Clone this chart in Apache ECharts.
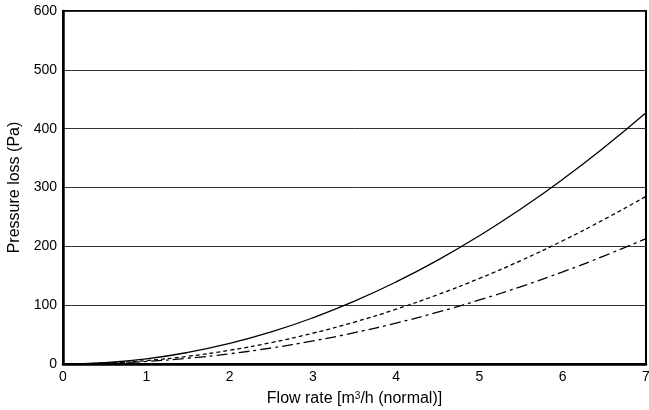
<!DOCTYPE html>
<html><head><meta charset="utf-8">
<script src="https://cdn.jsdelivr.net/npm/echarts@6/dist/echarts.min.js"></script>
<style>html,body{margin:0;padding:0;background:#fff}#c{width:649px;height:410px}</style>
</head><body><div id="c"></div>
<script>
const flowRate = [0, 0.5, 1, 1.5, 2, 2.5, 3, 3.5, 4, 4.5, 5, 5.5, 6, 6.5, 7];
const solidLoss = [0, 2.2, 8.7, 19.6, 34.9, 54.5, 78.5, 106.8, 139.5, 176.6, 218, 263.8, 313.9, 368.4, 427];
const dashedLoss = [0, 1.5, 5.8, 13.1, 23.3, 36.4, 52.4, 71.3, 93.1, 117.9, 145.5, 176, 209.5, 245.9, 285];
const dashDotLoss = [0, 1.1, 4.35, 9.8, 17.4, 27.2, 39.2, 53.3, 69.6, 88.1, 108.8, 131.6, 156.6, 183.8, 213];
const xTicks = [0, 1, 2, 3, 4, 5, 6, 7];
const yTicks = [0, 100, 200, 300, 400, 500, 600];

const pair = (ys) => flowRate.map((x, i) => [x, ys[i]]);
const font = 'Liberation Sans, Arial, sans-serif';
const chart = echarts.init(document.getElementById('c'), null, {renderer: 'canvas'});
function mk(ys, type, w) {
  return {type: 'line', data: pair(ys), smooth: true, symbol: 'none',
    lineStyle: {color: '#000', width: w, type: type}, z: 5};
}
chart.setOption({
  animation: false,
  grid: {left: 63, right: 3, top: 11, bottom: 46, outerBoundsMode: 'none', containLabel: false,
    show: true, borderColor: '#000', borderWidth: 2, backgroundColor: 'transparent'},
  xAxis: {type: 'value', min: xTicks[0], max: xTicks[xTicks.length-1], interval: 1,
    name: 'Flow rate [m{sup|3}/h (normal)]', nameLocation: 'middle', nameGap: 27,
    nameTextStyle: {fontFamily: font, fontSize: 16, color: '#000',
      rich: {sup: {fontFamily: font, fontSize: 10, color: '#000', verticalAlign: 'top', padding: [0, 0, 6, 0]}}},
    axisLine: {show: true, lineStyle: {color: '#000', width: 2.5}},
    axisTick: {show: false}, splitLine: {show: false},
    axisLabel: {fontFamily: font, fontSize: 14, color: '#000', margin: 6}},
  yAxis: {type: 'value', min: yTicks[0], max: yTicks[yTicks.length-1], interval: 100,
    name: 'Pressure loss (Pa)', nameLocation: 'middle', nameGap: 40, nameRotate: 90,
    nameTextStyle: {fontFamily: font, fontSize: 16, color: '#000'},
    axisLine: {show: true, lineStyle: {color: '#000', width: 2.5}},
    axisTick: {show: false},
    splitLine: {show: true, lineStyle: {color: '#333', width: 1}},
    axisLabel: {fontFamily: font, fontSize: 14, color: '#000', margin: 6}},
  series: [
    mk(solidLoss, 'solid', 1.3),
    mk(dashedLoss, [4, 3], 1.3),
    mk(dashDotLoss, [11, 4, 3, 4], 1.3)
  ]
});
</script></body></html>
